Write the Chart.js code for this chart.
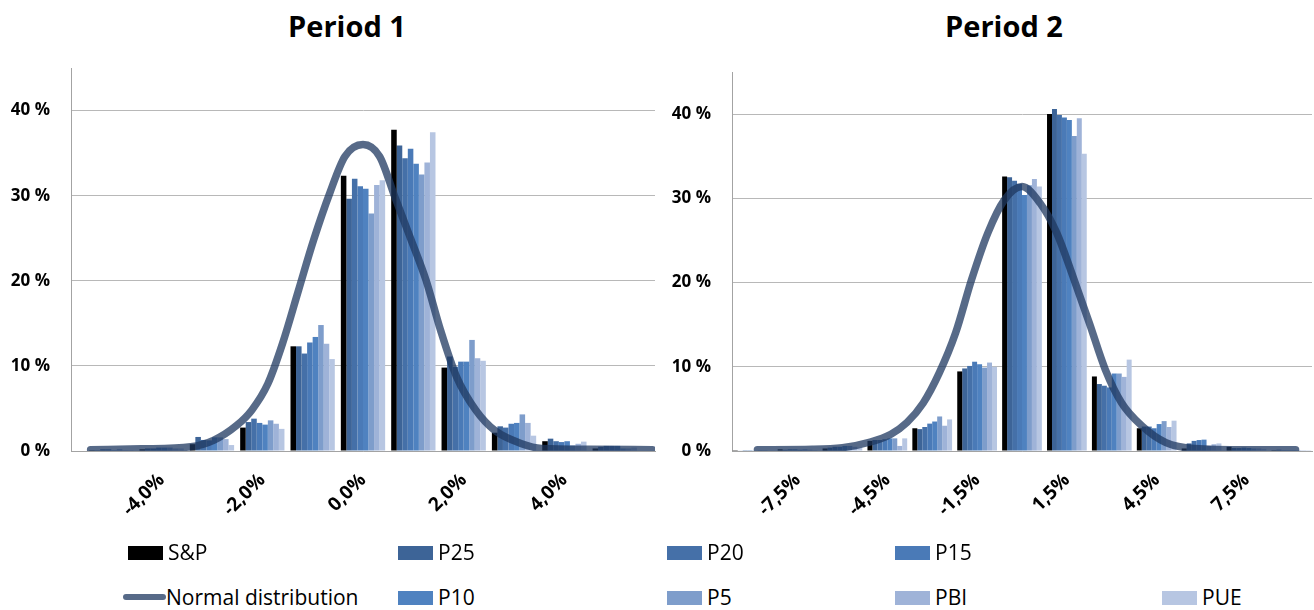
<!DOCTYPE html>
<html lang="en">
<head>
<meta charset="UTF-8">
<title>Return distributions - Period 1 and Period 2</title>
<script src="https://cdn.jsdelivr.net/npm/chart.js"></script>
<style>
  html, body { margin: 0; padding: 0; background: #fff; }
  body {
    width: 1314px; height: 610px;
    position: relative; overflow: hidden;
    font-family: "Open Sans", sans-serif; color: #000;
  }
  canvas { position: absolute; top: 0; }
  #chart1 { left: 0; }
  #chart2 { left: 660px; }

  /* chart titles */
  .title {
    position: absolute; top: 11px;
    font-size: 29px; font-weight: bold; line-height: 1;
    transform: translateX(-50%); white-space: nowrap;
  }

  /* legend under both charts */
  .lg-swatch { position: absolute; width: 35px; height: 14px; }
  .lg-line { position: absolute; width: 43px; height: 6px; border-radius: 3px; }
  .lg-text { position: absolute; font-size: 21px; line-height: 1; white-space: nowrap; }
</style>
</head>
<body>

<div class="title" style="left:347px">Period 1</div>
<div class="title" style="left:1004px">Period 2</div>

<canvas id="chart1" width="660" height="540"></canvas>
<canvas id="chart2" width="654" height="540"></canvas>

<div id="legend"></div>

<script>
  // series
  const seriesNames = ['S&P', 'P25', 'P20', 'P15', 'P10', 'P5', 'PBI', 'PUE'];
  const seriesColors = ['#000000', '#3d6497', '#4570a8', '#4a7ab7', '#4f82c0', '#7e9dcb', '#9fb3d8', '#b7c6e2'];
  const lineName = 'Normal distribution';
  const lineColor = 'rgba(31, 56, 96, 0.75)';

  // Period 1 : return bins (%), one value per bin for each series (% of days)
  const bins1 = [-5, -4, -3, -2, -1, 0, 1, 2, 3, 4, 5];
  const xTicks1 = [-4, -2, 0, 2, 4];
  const sp1  = [0.1, 0.2, 0.8, 2.75, 12.3, 32.35, 37.75, 9.8, 2.15, 1.15, 0.3];
  const p25_1 = [0.1, 0.3, 1.65, 3.4, 12.3, 29.65, 35.9, 11.1, 2.9, 1.45, 0.5];
  const p20_1 = [0.2, 0.3, 1.3, 3.8, 11.45, 32.0, 34.4, 9.9, 2.75, 1.15, 0.6];
  const p15_1 = [0.2, 0.4, 1.25, 3.3, 12.75, 31.1, 35.5, 10.5, 3.2, 1.05, 0.6];
  const p10_1 = [0.1, 0.4, 1.6, 3.1, 13.4, 30.8, 33.75, 10.5, 3.3, 1.15, 0.6];
  const p5_1  = [0.2, 0.4, 1.6, 3.6, 14.8, 27.9, 32.5, 13.05, 4.3, 0.65, 0.3];
  const pbi1 = [0.1, 0.3, 1.4, 3.2, 12.6, 31.25, 33.9, 10.9, 3.3, 0.85, 0.3];
  const pue1 = [0.1, 0.3, 0.7, 2.6, 10.8, 31.8, 37.45, 10.6, 1.8, 1.1, 0.4];
  // normal curve
  const normX1 = [-5.41, -4.4, -3.42, -2.97, -2.51, -2.21, -1.89, -1.6, -1.28, -0.98, -0.66, -0.36, 0,
                  0.33, 0.63, 0.93, 1.25, 1.54, 1.86, 2.24, 2.62, 3.15, 3.55, 4.5, 5.75];
  const normY1 = [0.15, 0.25, 0.5, 1.25, 3.0, 4.8, 7.9, 12.6, 18.9, 24.8, 30.3, 34.6, 36.0,
                  34.6, 29.9, 25.2, 20.1, 14.2, 8.7, 4.8, 2.4, 0.86, 0.3, 0.2, 0.15];

  // Period 2
  const bins2 = [-9, -7.5, -6, -4.5, -3, -1.5, 0, 1.5, 3, 4.5, 6, 7.5, 9];
  const xTicks2 = [-7.5, -4.5, -1.5, 1.5, 4.5, 7.5];
  const sp2  = [0.1, 0.2, 0.3, 1.2, 2.7, 9.45, 32.6, 40.0, 8.85, 2.7, 0.3, 0.5, 0.1];
  const p25_2 = [0.05, 0.15, 0.4, 1.3, 2.6, 9.8, 32.5, 40.6, 7.95, 2.9, 0.9, 0.35, 0.15];
  const p20_2 = [0.1, 0.2, 0.5, 1.3, 2.85, 10.1, 32.1, 39.9, 7.75, 2.9, 1.2, 0.35, 0.1];
  const p15_2 = [0.1, 0.2, 0.5, 1.4, 3.25, 10.6, 31.7, 39.6, 7.55, 2.7, 1.3, 0.4, 0.1];
  const p10_2 = [0.05, 0.15, 0.6, 1.5, 3.5, 10.3, 30.4, 39.3, 9.2, 3.2, 1.35, 0.35, 0.1];
  const p5_2  = [0.1, 0.2, 0.6, 1.5, 4.1, 9.9, 31.55, 37.4, 9.2, 3.55, 0.6, 0.3, 0.1];
  const pbi2 = [0.1, 0.15, 0.5, 0.6, 3.0, 10.5, 32.3, 39.5, 8.8, 2.85, 0.8, 0.3, 0.1];
  const pue2 = [0.05, 0.1, 0.4, 1.5, 3.75, 10.0, 31.4, 35.3, 10.85, 3.6, 0.9, 0.25, 0.1];
  const normX2 = [-8.84, -7.0, -6.0, -5.07, -4.38, -3.84, -3.3, -2.76, -2.22, -1.68, -1.14, -0.59, 0,
                  0.61, 1.16, 1.7, 2.25, 2.78, 3.33, 4.0, 4.81, 5.76, 7.5, 9.14];
  const normY2 = [0.15, 0.2, 0.4, 1.07, 2.0, 3.4, 5.7, 9.3, 14.0, 20.4, 25.9, 29.8, 31.4,
                  29.4, 25.9, 20.75, 15.2, 9.7, 5.7, 3.0, 1.0, 0.3, 0.15, 0.15];

  const yTicks = [0, 10, 20, 30, 40];

  const fmtX = v => v.toFixed(1).replace('.', ',') + '%';
  const fmtY = v => v + ' %';

  function drawPeriod(canvasId, bins, values, normX, normY, xRange, xTicks, box) {
    const datasets = [{
      type: 'line',
      label: lineName,
      data: normX.map((x, i) => ({ x: x, y: normY[i] })),
      borderColor: lineColor,
      borderWidth: 7.5,
      borderCapStyle: 'round',
      borderJoinStyle: 'round',
      pointRadius: 0,
      cubicInterpolationMode: 'monotone',
      fill: false,
      order: 0
    }];
    seriesNames.forEach((name, s) => {
      datasets.push({
        type: 'bar',
        label: name,
        data: bins.map((x, i) => ({ x: x, y: values[s][i] })),
        backgroundColor: seriesColors[s],
        borderWidth: 0,
        categoryPercentage: box.groupPct,
        barPercentage: 1,
        order: 1
      });
    });

    const yFont = { family: 'Open Sans', size: 17, weight: 'bold' };
    const xFont = { family: 'Open Sans', size: 19, weight: 'bold' };

    return new Chart(document.getElementById(canvasId), {
      type: 'bar',
      data: { datasets: datasets },
      options: {
        responsive: false,
        animation: false,
        devicePixelRatio: 1,
        events: [],
        layout: { padding: { top: box.top, right: box.right, left: 0, bottom: 0 } },
        plugins: { legend: { display: false }, tooltip: { enabled: false } },
        scales: {
          x: {
            type: 'linear',
            min: xRange[0],
            max: xRange[1],
            offset: false,
            afterBuildTicks: axis => { axis.ticks = xTicks.map(v => ({ value: v })); },
            afterFit: axis => { axis.height = box.axisH; },
            grid: { drawOnChartArea: false, drawTicks: false },
            border: { color: '#a3a3a3', width: 1 },
            ticks: {
              autoSkip: false, minRotation: 45, maxRotation: 45, padding: 18,
              color: '#000', font: xFont, callback: v => fmtX(v)
            }
          },
          y: {
            min: 0,
            max: 45,
            afterBuildTicks: axis => { axis.ticks = yTicks.map(v => ({ value: v })); },
            afterFit: axis => { axis.width = box.axisW; },
            grid: { color: '#b8b8b8', drawTicks: false },
            border: { color: '#a3a3a3', width: 1 },
            ticks: { padding: 21, color: '#000', font: yFont, callback: v => fmtY(v) }
          }
        }
      }
    });
  }

  // legend, laid out like the original two-row block
  function buildLegend() {
    const items = [
      { name: seriesNames[0], color: seriesColors[0], x: 128, row: 0 },
      { name: seriesNames[1], color: seriesColors[1], x: 398, row: 0 },
      { name: seriesNames[2], color: seriesColors[2], x: 667, row: 0 },
      { name: seriesNames[3], color: seriesColors[3], x: 895, row: 0 },
      { name: lineName, color: lineColor, x: 123, row: 1, line: true },
      { name: seriesNames[4], color: seriesColors[4], x: 398, row: 1 },
      { name: seriesNames[5], color: seriesColors[5], x: 667, row: 1 },
      { name: seriesNames[6], color: seriesColors[6], x: 895, row: 1 },
      { name: seriesNames[7], color: seriesColors[7], x: 1162, row: 1 }
    ];
    const rowTop = [546, 591];
    const textTop = [542, 587];
    const legend = document.getElementById('legend');
    items.forEach(it => {
      const sw = document.createElement('div');
      const txt = document.createElement('div');
      txt.className = 'lg-text';
      txt.textContent = it.name;
      txt.style.top = textTop[it.row] + 'px';
      if (it.line) {
        sw.className = 'lg-line';
        sw.style.left = it.x + 'px';
        sw.style.top = (rowTop[it.row] + 3) + 'px';
        txt.style.left = (it.x + 43) + 'px';
      } else {
        sw.className = 'lg-swatch';
        sw.style.left = it.x + 'px';
        sw.style.top = rowTop[it.row] + 'px';
        txt.style.left = (it.x + 40) + 'px';
      }
      sw.style.background = it.color;
      legend.appendChild(sw);
      legend.appendChild(txt);
    });
  }

  function render() {
    drawPeriod('chart1', bins1,
      [sp1, p25_1, p20_1, p15_1, p10_1, p5_1, pbi1, pue1],
      normX1, normY1, [-5.8, 5.8], xTicks1,
      { top: 68, right: 5, axisW: 71, axisH: 89, groupPct: 0.88 });
    drawPeriod('chart2', bins2,
      [sp2, p25_2, p20_2, p15_2, p10_2, p5_2, pbi2, pue2],
      normX2, normY2, [-9.69, 9.69], xTicks2,
      { top: 72, right: 2, axisW: 72, axisH: 89, groupPct: 0.885 });
    buildLegend();
  }

  if (document.fonts && document.fonts.load) {
    Promise.all([
      document.fonts.load('bold 17px "Open Sans"'),
      document.fonts.load('21px "Open Sans"')
    ]).then(render, render);
  } else {
    render();
  }
</script>
</body>
</html>
